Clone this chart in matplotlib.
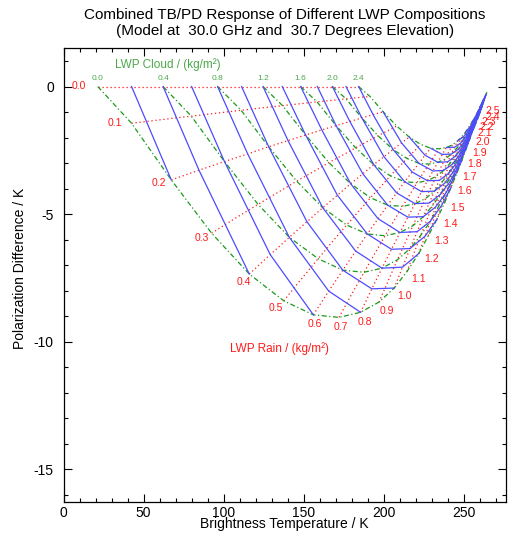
import matplotlib
matplotlib.use('Agg')
import matplotlib.pyplot as plt
from matplotlib.ticker import MultipleLocator

plt.rcParams['font.family'] = ['Liberation Sans', 'DejaVu Sans']
plt.rcParams['axes.unicode_minus'] = False

# LWP values (kg/m^2)
rain_lwp = [0.0, 0.1, 0.2, 0.3, 0.4, 0.5, 0.6, 0.7, 0.8, 0.9, 1.0, 1.1, 1.2,
            1.3, 1.4, 1.5, 1.6, 1.7, 1.8, 1.9, 2.0, 2.1, 2.2, 2.3, 2.4, 2.5]
cloud_lwp = [0.0, 0.2, 0.4, 0.6, 0.8, 1.0, 1.2, 1.4, 1.6, 1.8, 2.0, 2.2, 2.4]
cloud_labelled = [0.0, 0.4, 0.8, 1.2, 1.6, 2.0, 2.4]   # drawn dash-dot and labelled

# brightness temperature (K), one row per cloud LWP, along rain LWP
tb_grid = [
    [21.4, 42.5, 67.3, 92.5, 116.0, 137.5, 156.0, 172.0, 185.5, 197.0, 206.5, 214.5, 221.8,
     227.8, 233.2, 238.0, 242.0, 245.6, 248.7, 251.4, 253.7, 255.7, 257.4, 258.9, 260.2, 261.3],
    [42.5, 62.0, 84.6, 107.6, 129.1, 148.7, 165.6, 180.2, 192.5, 203.0, 211.7, 219.0, 225.7,
     231.1, 236.1, 240.4, 244.1, 247.4, 250.2, 252.7, 254.8, 256.6, 258.2, 259.5, 260.7, 261.7],
    [62.2, 79.8, 100.5, 121.5, 141.0, 159.0, 174.4, 187.7, 198.9, 208.5, 216.4, 223.1, 229.2,
     234.2, 238.7, 242.7, 246.0, 249.0, 251.6, 253.8, 255.8, 257.4, 258.8, 260.1, 261.2, 262.1],
    [80.0, 96.1, 115.0, 134.1, 152.0, 168.3, 182.4, 194.6, 204.8, 213.6, 220.8, 226.9, 232.4,
     237.0, 241.1, 244.7, 247.8, 250.5, 252.9, 254.9, 256.7, 258.2, 259.5, 260.6, 261.6, 262.4],
    [96.2, 110.9, 128.1, 145.6, 161.9, 176.8, 189.7, 200.8, 210.1, 218.1, 224.7, 230.3, 235.3,
     239.5, 243.2, 246.6, 249.3, 251.8, 254.0, 255.9, 257.5, 258.9, 260.0, 261.1, 262.0, 262.7],
    [111.2, 124.5, 140.2, 156.2, 171.0, 184.7, 196.4, 206.5, 215.0, 222.3, 228.3, 233.4, 238.0,
     241.8, 245.2, 248.3, 250.8, 253.1, 255.0, 256.8, 258.2, 259.5, 260.6, 261.5, 262.3, 263.0],
    [124.6, 136.8, 151.2, 165.7, 179.3, 191.7, 202.4, 211.7, 219.5, 226.1, 231.6, 236.2, 240.5,
     243.9, 247.0, 249.8, 252.1, 254.2, 256.0, 257.6, 258.9, 260.0, 261.0, 261.9, 262.6, 263.3],
    [136.6, 148.2, 161.3, 174.6, 186.9, 198.3, 208.0, 216.5, 223.6, 229.6, 234.6, 238.9, 242.7,
     245.9, 248.7, 251.2, 253.4, 255.2, 256.9, 258.3, 259.5, 260.6, 261.5, 262.3, 262.9, 263.5],
    [148.1, 158.3, 170.2, 182.4, 193.7, 204.1, 213.0, 220.7, 227.2, 232.7, 237.3, 241.2, 244.7,
     247.6, 250.2, 252.5, 254.4, 256.2, 257.7, 259.0, 260.1, 261.0, 261.9, 262.6, 263.2, 263.7],
    [158.5, 167.9, 178.8, 189.8, 200.1, 209.6, 217.7, 224.7, 230.7, 235.7, 239.9, 243.4, 246.6,
     249.2, 251.6, 253.7, 255.5, 257.0, 258.4, 259.6, 260.6, 261.5, 262.2, 262.9, 263.5, 263.9],
    [167.9, 176.4, 186.3, 196.4, 205.8, 214.5, 221.9, 228.3, 233.7, 238.3, 242.1, 245.3, 248.3,
     250.7, 252.8, 254.8, 256.4, 257.8, 259.1, 260.1, 261.1, 261.9, 262.6, 263.2, 263.7, 264.1],
    [176.4, 184.2, 193.3, 202.5, 211.1, 219.0, 225.7, 231.6, 236.5, 240.7, 244.2, 247.2, 249.8,
     252.0, 254.0, 255.8, 257.2, 258.5, 259.7, 260.7, 261.5, 262.2, 262.9, 263.4, 263.9, 264.3],
    [184.3, 191.4, 199.6, 208.1, 215.9, 223.1, 229.3, 234.6, 239.1, 243.0, 246.1, 248.8, 251.2,
     253.2, 255.0, 256.6, 258.0, 259.2, 260.2, 261.1, 261.9, 262.6, 263.1, 263.6, 264.1, 264.4],
]

# polarization difference (K), same layout
pd_grid = [
    [0.0, -1.44, -3.66, -5.75, -7.35, -8.40, -8.95, -9.05, -8.85, -8.45, -7.90, -7.25, -6.55,
     -5.85, -5.20, -4.55, -3.95, -3.40, -2.90, -2.45, -2.05, -1.70, -1.45, -1.22, -1.00, -0.80],
    [0.0, -1.29, -3.28, -5.15, -6.59, -7.53, -8.02, -8.11, -7.93, -7.58, -7.08, -6.50, -5.87,
     -5.24, -4.66, -4.08, -3.54, -3.05, -2.60, -2.20, -1.84, -1.52, -1.30, -1.09, -0.90, -0.72],
    [0.0, -1.16, -2.94, -4.62, -5.91, -6.75, -7.20, -7.28, -7.12, -6.79, -6.35, -5.83, -5.27,
     -4.70, -4.18, -3.66, -3.18, -2.73, -2.33, -1.97, -1.65, -1.37, -1.17, -0.98, -0.80, -0.64],
    [0.0, -1.04, -2.64, -4.14, -5.30, -6.05, -6.45, -6.52, -6.38, -6.09, -5.69, -5.22, -4.72,
     -4.22, -3.75, -3.28, -2.85, -2.45, -2.09, -1.77, -1.48, -1.23, -1.04, -0.88, -0.72, -0.58],
    [0.0, -0.93, -2.36, -3.71, -4.75, -5.43, -5.78, -5.85, -5.72, -5.46, -5.10, -4.68, -4.23,
     -3.78, -3.36, -2.94, -2.55, -2.20, -1.87, -1.58, -1.32, -1.10, -0.94, -0.79, -0.65, -0.52],
    [0.0, -0.83, -2.12, -3.33, -4.26, -4.86, -5.18, -5.24, -5.12, -4.89, -4.57, -4.20, -3.79,
     -3.39, -3.01, -2.63, -2.29, -1.97, -1.68, -1.42, -1.19, -0.98, -0.84, -0.71, -0.58, -0.46],
    [0.0, -0.75, -1.90, -2.98, -3.81, -4.36, -4.65, -4.70, -4.59, -4.39, -4.10, -3.76, -3.40,
     -3.04, -2.70, -2.36, -2.05, -1.76, -1.51, -1.27, -1.06, -0.88, -0.75, -0.63, -0.52, -0.42],
    [0.0, -0.67, -1.70, -2.68, -3.42, -3.91, -4.17, -4.21, -4.12, -3.93, -3.68, -3.38, -3.05,
     -2.72, -2.42, -2.12, -1.84, -1.58, -1.35, -1.14, -0.95, -0.79, -0.68, -0.57, -0.47, -0.37],
    [0.0, -0.60, -1.53, -2.40, -3.06, -3.50, -3.73, -3.77, -3.69, -3.52, -3.29, -3.02, -2.73,
     -2.44, -2.17, -1.90, -1.65, -1.42, -1.21, -1.02, -0.85, -0.71, -0.60, -0.51, -0.42, -0.33],
    [0.0, -0.54, -1.37, -2.15, -2.75, -3.14, -3.35, -3.38, -3.31, -3.16, -2.95, -2.71, -2.45,
     -2.19, -1.94, -1.70, -1.48, -1.27, -1.08, -0.92, -0.77, -0.64, -0.54, -0.46, -0.37, -0.30],
    [0.0, -0.48, -1.23, -1.93, -2.47, -2.82, -3.01, -3.04, -2.97, -2.84, -2.65, -2.44, -2.20,
     -1.97, -1.75, -1.53, -1.33, -1.14, -0.97, -0.82, -0.69, -0.57, -0.49, -0.41, -0.34, -0.27],
    [0.0, -0.43, -1.10, -1.73, -2.21, -2.53, -2.69, -2.72, -2.66, -2.54, -2.38, -2.18, -1.97,
     -1.76, -1.57, -1.37, -1.19, -1.02, -0.87, -0.74, -0.62, -0.51, -0.44, -0.37, -0.30, -0.24],
    [0.0, -0.39, -0.99, -1.55, -1.98, -2.27, -2.42, -2.44, -2.39, -2.28, -2.13, -1.96, -1.77,
     -1.58, -1.40, -1.23, -1.07, -0.92, -0.78, -0.66, -0.55, -0.46, -0.39, -0.33, -0.27, -0.22],
]

# total LWP lines (cloud + rain)
total_lwp = [0.2, 0.4, 0.6, 0.8, 1.0, 1.2, 1.4, 1.6, 1.8, 2.0, 2.2, 2.4,
             2.6, 2.8, 3.0, 3.2, 3.4, 3.6, 3.8, 4.0, 4.2, 4.4, 4.6]

# label shifts in pixels (right, down) for the rain labels
rain_label_shift = [(-19, -1), (-17, 0), (-12, 3), (-10, 5), (-5, 8), (-8, 7), (1, 9),
                    (2, 10), (4, 10), (8, 9), (10, 8), (11, 8), (13, 5), (13, 5), (13, 5),
                    (13, 5), (13, 3.5), (13, 3.5), (13, 3.5), (13, 3.5), (13, 3.5),
                    (12, 3.5), (11, 3.5), (11, 4), (12, 4.5), (11, 4.5)]

RED = '#ff1a1a'
GREEN = '#1a9a1a'
GREEN_TXT = '#4aa84a'
BLUE = '#4c4cff'

fig = plt.figure(figsize=(5.12, 5.33), dpi=100)
ax = fig.add_axes([63.5 / 512, 30.7 / 533, 442.5 / 512, 454 / 533])

# constant rain lines
for j in range(len(rain_lwp)):
    ax.plot([row[j] for row in tb_grid], [row[j] for row in pd_grid],
            color=RED, lw=0.9, ls=(0, (1, 2.2)), zorder=1)

# constant cloud lines (every 0.4)
for c in cloud_labelled:
    i = cloud_lwp.index(c)
    ax.plot(tb_grid[i], pd_grid[i], color=GREEN, lw=0.9,
            ls=(0, (4, 2, 1, 2)), zorder=2)

# constant total LWP lines
for tot in total_lwp:
    xs, ys = [], []
    for i in range(len(cloud_lwp) - 1, -1, -1):
        r = tot - cloud_lwp[i]
        if -1e-6 <= r <= rain_lwp[-1] + 1e-6:
            j = int(round(r * 10))
            xs.append(tb_grid[i][j])
            ys.append(pd_grid[i][j])
    if len(xs) > 1:
        ax.plot(xs, ys, color=BLUE, lw=0.9, zorder=3)

# labels
for c in cloud_labelled:
    i = cloud_lwp.index(c)
    ax.annotate(f'{c:.1f}', (tb_grid[i][0], pd_grid[i][0]), xytext=(0, 8.5),
                textcoords='offset pixels', ha='center', va='center',
                fontsize=6, color=GREEN_TXT)
for j, r in enumerate(rain_lwp):
    dx, dy = rain_label_shift[j]
    ax.annotate(f'{r:.1f}', (tb_grid[0][j], pd_grid[0][j]), xytext=(dx, -dy),
                textcoords='offset pixels', ha='center', va='center',
                fontsize=7.5, color=RED)

ax.text(65, 0.85, 'LWP Cloud / (kg/m²)', color=GREEN_TXT, fontsize=8.5,
        ha='center', va='center')
ax.text(135, -10.26, 'LWP Rain / (kg/m²)', color=RED, fontsize=8.5,
        ha='center', va='center')

ax.set_xlim(0, 276.3)
ax.set_ylim(-16.3, 1.5)
ax.xaxis.set_major_locator(MultipleLocator(50))
ax.xaxis.set_minor_locator(MultipleLocator(10))
ax.yaxis.set_major_locator(MultipleLocator(5))
ax.yaxis.set_minor_locator(MultipleLocator(1))
ax.tick_params(which='both', direction='in', top=True, right=True, width=0.8,
               labelsize=10)
ax.tick_params(which='major', length=6)
ax.tick_params(which='minor', length=3.2)
ax.tick_params(axis='x', pad=2.5)
ax.tick_params(axis='y', pad=7)
for s in ax.spines.values():
    s.set_linewidth(0.9)

fig.text(284.75 / 512, 1 - 15 / 533, 'Combined TB/PD Response of Different LWP Compositions',
         ha='center', va='center', fontsize=11)
fig.text(284.75 / 512, 1 - 31 / 533, '(Model at  30.0 GHz and  30.7 Degrees Elevation)',
         ha='center', va='center', fontsize=11)
fig.text(284.75 / 512, 1 - 524 / 533, 'Brightness Temperature / K',
         ha='center', va='center', fontsize=10)
fig.text(20 / 512, 1 - 268 / 533, 'Polarization Difference / K', rotation=90,
         ha='center', va='center', fontsize=10)

fig.savefig('out.png', dpi=100)
